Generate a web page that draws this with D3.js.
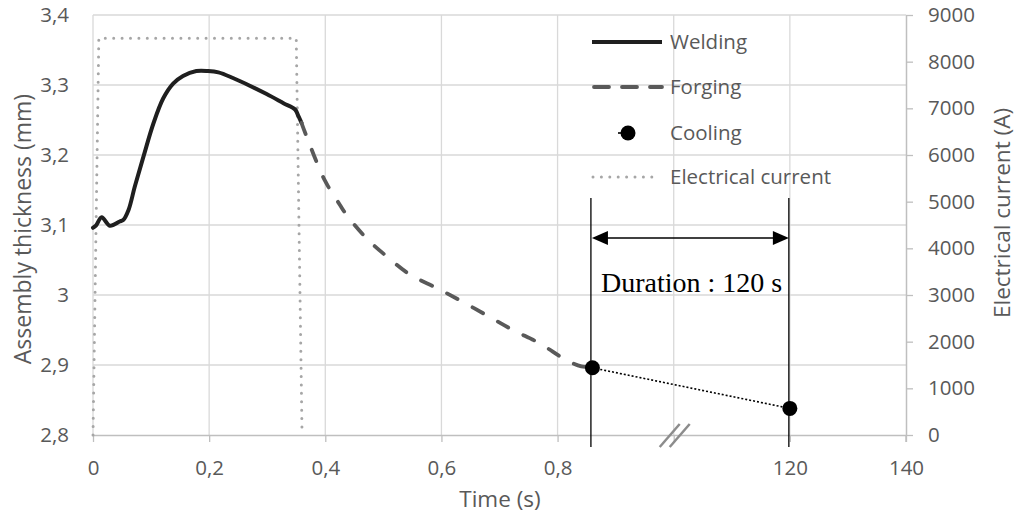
<!DOCTYPE html>
<html>
<head>
<meta charset="utf-8">
<script src="https://cdn.jsdelivr.net/npm/d3@7"></script>
<style>
  html, body { margin: 0; padding: 0; background: #fff; }
  svg { display: block; font-family: "Open Sans", "Noto Sans", sans-serif; }
</style>
</head>
<body>
<svg id="chart" width="1016" height="514"></svg>
<script>
// Welding phase: assembly thickness (mm) over time (s)
const weldTime = [0, 0.005, 0.015, 0.029, 0.046, 0.052, 0.061, 0.072, 0.087, 0.104, 0.121, 0.138,
                  0.155, 0.178, 0.198, 0.216, 0.241, 0.270, 0.299, 0.328, 0.348, 0.353, 0.359];
const weldThickness = [3.096, 3.099, 3.111, 3.099, 3.105, 3.107, 3.121, 3.155, 3.198, 3.245, 3.281, 3.302,
                       3.313, 3.320, 3.320, 3.318, 3.310, 3.299, 3.287, 3.274, 3.265, 3.257, 3.246];

// Forging phase
const forgeTime = [0.359, 0.368, 0.399, 0.425, 0.437, 0.471, 0.506, 0.546, 0.592, 0.626, 0.678,
                   0.723, 0.769, 0.815, 0.841, 0.854];
const forgeThickness = [3.246, 3.226, 3.164, 3.129, 3.114, 3.081, 3.055, 3.029, 3.010, 2.995, 2.971,
                        2.950, 2.931, 2.907, 2.898, 2.897];

// Cooling phase: start and end of the 120 s hold
const coolTime = [0.86, 120];
const coolThickness = [2.896, 2.838];

// Electrical current (A)
const currentTime = [0, 0.01, 0.35, 0.36];
const currentAmps = [0, 8500, 8500, 0];

// Axis ticks and labels
const xTicks = [0, 0.2, 0.4, 0.6, 0.8, 1, 120, 140];
const xTickLabels = ["0", "0,2", "0,4", "0,6", "0,8", "", "120", "140"];
const yLeftTicks = [2.8, 2.9, 3.0, 3.1, 3.2, 3.3, 3.4];
const yLeftLabels = ["2,8", "2,9", "3", "3,1", "3,2", "3,3", "3,4"];
const yRightTicks = [0, 1000, 2000, 3000, 4000, 5000, 6000, 7000, 8000, 9000];
const yRightLabels = ["0", "1000", "2000", "3000", "4000", "5000", "6000", "7000", "8000", "9000"];

const legendItems = ["Welding", "Forging", "Cooling", "Electrical current"];
const durationLabel = "Duration : 120 s";

// Layout
const plotLeft = 93, plotRight = 906, plotTop = 15, plotBottom = 435;
const plotW = plotRight - plotLeft;
const textColor = "#595959";
const gridColor = "#d9d9d9";
const axisColor = "#bfbfbf";

const svg = d3.select("#chart");

// Broken time axis: 0..1 s linear, then a jump to 120 s and 140 s
const x = d3.scaleLinear()
  .domain([0, 1, 120, 140])
  .range([plotLeft, plotLeft + plotW * 5 / 7, plotLeft + plotW * 6 / 7, plotRight]);
const yL = d3.scaleLinear().domain([2.8, 3.4]).range([plotBottom, plotTop]);
const yR = d3.scaleLinear().domain([0, 9000]).range([plotBottom, plotTop]);

// Gridlines
const grid = svg.append("g");
grid.selectAll("line.h").data(yLeftTicks.filter(d => d > 2.8)).join("line").attr("class", "h")
  .attr("x1", plotLeft).attr("x2", plotRight)
  .attr("y1", d => yL(d)).attr("y2", d => yL(d))
  .attr("stroke", gridColor).attr("stroke-width", 1.3);
grid.selectAll("line.v").data(xTicks.filter(d => d < 140)).join("line").attr("class", "v")
  .attr("x1", d => x(d)).attr("x2", d => x(d))
  .attr("y1", plotTop).attr("y2", plotBottom)
  .attr("stroke", gridColor).attr("stroke-width", 1.3);

// Left axis (labels only)
const axL = svg.append("g").attr("transform", `translate(${plotLeft},0)`)
  .call(d3.axisLeft(yL).tickValues(yLeftTicks).tickFormat((d, i) => yLeftLabels[i])
    .tickSize(0).tickPadding(24));
axL.select(".domain").remove();

// Bottom axis
const axB = svg.append("g").attr("transform", `translate(0,${plotBottom})`)
  .call(d3.axisBottom(x).tickValues(xTicks).tickFormat((d, i) => xTickLabels[i])
    .tickSizeInner(7).tickSizeOuter(0).tickPadding(18));
axB.select(".domain").attr("stroke", axisColor).attr("stroke-width", 1.5);
axB.selectAll(".tick line").attr("stroke", axisColor).attr("stroke-width", 1.3);

// Right axis
const axR = svg.append("g").attr("transform", `translate(${plotRight},0)`)
  .call(d3.axisRight(yR).tickValues(yRightTicks).tickFormat((d, i) => yRightLabels[i])
    .tickSizeInner(7).tickSizeOuter(0).tickPadding(15));
axR.select(".domain").attr("stroke", axisColor).attr("stroke-width", 1.5);
axR.selectAll(".tick line").attr("stroke", axisColor).attr("stroke-width", 1.3);
svg.append("line").attr("x1", plotRight).attr("x2", plotRight)
  .attr("y1", plotBottom).attr("y2", plotBottom + 7)
  .attr("stroke", axisColor).attr("stroke-width", 1.5);

svg.selectAll(".tick text")
  .attr("fill", textColor)
  .style("font-size", "20.5px")
  .style("font-family", "'Open Sans', 'Noto Sans', sans-serif");

// Axis titles
svg.append("text")
  .attr("transform", `translate(31,229) rotate(-90)`)
  .attr("text-anchor", "middle").attr("fill", textColor)
  .style("font-size", "23px").text("Assembly thickness (mm)");
svg.append("text")
  .attr("transform", `translate(1010,213) rotate(-90)`)
  .attr("text-anchor", "middle").attr("fill", textColor)
  .style("font-size", "22.5px").text("Electrical current (A)");
svg.append("text")
  .attr("x", 500).attr("y", 507)
  .attr("text-anchor", "middle").attr("fill", textColor)
  .style("font-size", "22.5px").text("Time (s)");

// Break marks on the time axis
const bx = x(1);
[-14, -4].forEach(a => {
  svg.append("line")
    .attr("x1", bx + a).attr("y1", plotBottom + 12)
    .attr("x2", bx + a + 20).attr("y2", plotBottom - 11)
    .attr("stroke", "#8c8c8c").attr("stroke-width", 2.5);
});

// Electrical current
const currentPts = currentTime.map((t, i) => [x(t), yR(currentAmps[i])]);
svg.append("path")
  .attr("d", d3.line()(currentPts))
  .attr("fill", "none").attr("stroke", "#a6a6a6").attr("stroke-width", 3)
  .attr("stroke-linecap", "round").attr("stroke-dasharray", "0,8.4");

// Welding
const curve = d3.line().curve(d3.curveCatmullRom.alpha(0.5));
svg.append("path")
  .attr("d", curve(weldTime.map((t, i) => [x(t), yL(weldThickness[i])])))
  .attr("fill", "none").attr("stroke", "#1f1f1f").attr("stroke-width", 4)
  .attr("stroke-linejoin", "round").attr("stroke-linecap", "round");

// Forging
svg.append("path")
  .attr("d", curve(forgeTime.map((t, i) => [x(t), yL(forgeThickness[i])])))
  .attr("fill", "none").attr("stroke", "#595959").attr("stroke-width", 3.8)
  .attr("stroke-linecap", "round").attr("stroke-dasharray", "12,17");

// Cooling
const coolPts = coolTime.map((t, i) => [x(t), yL(coolThickness[i])]);
svg.append("path")
  .attr("d", d3.line()(coolPts))
  .attr("fill", "none").attr("stroke", "#000").attr("stroke-width", 1.6)
  .attr("stroke-dasharray", "2,2");
svg.selectAll("circle.cool").data(coolPts).join("circle").attr("class", "cool")
  .attr("cx", d => d[0]).attr("cy", d => d[1]).attr("r", 7.5).attr("fill", "#000");

// Duration annotation
const ax1 = x(coolTime[0]) - 1.5, ax2 = x(coolTime[1]) - 1;
[ax1, ax2].forEach(px => {
  svg.append("line").attr("x1", px).attr("x2", px).attr("y1", 198).attr("y2", 447)
    .attr("stroke", "#000").attr("stroke-width", 1.3);
});
const arrowY = 238;
svg.append("line").attr("x1", ax1 + 10).attr("x2", ax2 - 10).attr("y1", arrowY).attr("y2", arrowY)
  .attr("stroke", "#000").attr("stroke-width", 1.5);
svg.append("path")
  .attr("d", `M${ax1 + 1},${arrowY} L${ax1 + 17},${arrowY - 7} L${ax1 + 17},${arrowY + 7} Z`)
  .attr("fill", "#000");
svg.append("path")
  .attr("d", `M${ax2},${arrowY} L${ax2 - 16},${arrowY - 7} L${ax2 - 16},${arrowY + 7} Z`)
  .attr("fill", "#000");
svg.append("text")
  .attr("x", 601).attr("y", 292)
  .attr("fill", "#000")
  .style("font-family", "'Liberation Serif', 'Times New Roman', serif")
  .style("font-size", "28px")
  .text(durationLabel);

// Legend
const legY = [42, 87, 133, 177];
const lg = svg.append("g");
lg.append("line").attr("x1", 592).attr("x2", 662).attr("y1", legY[0]).attr("y2", legY[0])
  .attr("stroke", "#1f1f1f").attr("stroke-width", 3.8);
lg.append("line").attr("x1", 594).attr("x2", 662).attr("y1", legY[1]).attr("y2", legY[1])
  .attr("stroke", "#595959").attr("stroke-width", 3.8).attr("stroke-linecap", "round")
  .attr("stroke-dasharray", "15,13");
lg.append("line").attr("x1", 618).attr("x2", 628).attr("y1", legY[2]).attr("y2", legY[2])
  .attr("stroke", "#000").attr("stroke-width", 1.6);
lg.append("circle").attr("cx", 628).attr("cy", legY[2]).attr("r", 7.5).attr("fill", "#000");
lg.append("line").attr("x1", 593).attr("x2", 657).attr("y1", legY[3]).attr("y2", legY[3])
  .attr("stroke", "#a6a6a6").attr("stroke-width", 3).attr("stroke-linecap", "round")
  .attr("stroke-dasharray", "0,8.4");
lg.selectAll("text").data(legendItems).join("text")
  .attr("x", 670).attr("y", (d, i) => legY[i]).attr("dy", "0.35em")
  .attr("fill", textColor).style("font-size", "20.5px")
  .text(d => d);
</script>
</body>
</html>
